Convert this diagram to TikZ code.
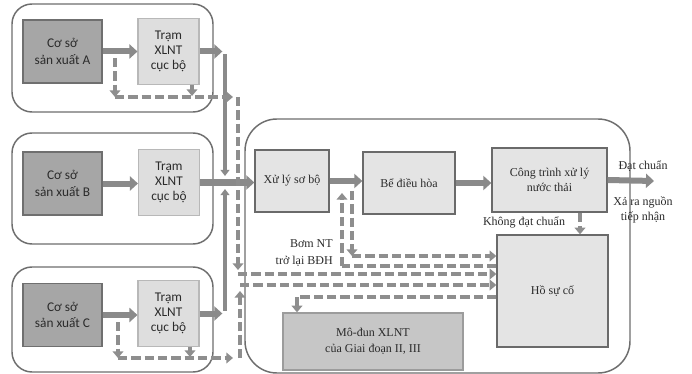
\documentclass[tikz,border=0pt]{standalone}
\usepackage{fontspec}
\setmainfont{Liberation Serif}
\newfontfamily\serfont{Liberation Serif}
\newfontfamily\calfont{Carlito}
\usetikzlibrary{arrows.meta}
\definecolor{cosofill}{HTML}{A6A6A6}
\definecolor{cosoline}{HTML}{6F6F6F}
\definecolor{tramfill}{HTML}{DEDEDE}
\definecolor{tramline}{HTML}{B8B8B8}
\definecolor{mainfill}{HTML}{E4E4E4}
\definecolor{mainline}{HTML}{6A6A6A}
\definecolor{modfill}{HTML}{C6C6C6}
\definecolor{modline}{HTML}{9C9C9C}
\definecolor{grpline}{HTML}{6E6E6E}
\definecolor{arrc}{HTML}{8A8A8A}
\definecolor{dashc}{HTML}{8E8E8E}
\definecolor{txt}{HTML}{2B2B2B}
\tikzset{
  grp/.style={draw=grpline, line width=1.1pt, rounded corners=15pt, minimum width=150.75pt, inner sep=0pt},
  bigarea/.style={draw=grpline, line width=1.1pt, rounded corners=24pt, inner sep=0pt},
  coso/.style={draw=cosoline, fill=cosofill, line width=0.9pt, inner sep=0pt, align=center, text=txt,
    font=\calfont\fontsize{10}{12.5}\selectfont, minimum width=59.25pt, minimum height=47.25pt},
  tram/.style={draw=tramline, fill=tramfill, line width=0.8pt, inner sep=0pt, align=center, text=txt,
    font=\calfont\fontsize{10}{11.5}\selectfont, minimum width=45.75pt, minimum height=49pt},
  mainbox/.style={draw=mainline, fill=mainfill, line width=1pt, inner sep=0pt, align=center, text=txt,
    font=\serfont\fontsize{9}{11.5}\selectfont},
  modbox/.style={draw=modline, fill=modfill, line width=1pt, inner sep=0pt, align=center, text=txt,
    font=\serfont\fontsize{9}{12}\selectfont},
  lbl/.style={inner sep=0pt, text=txt, font=\serfont\fontsize{9}{11.5}\selectfont, align=center},
  flow/.style={draw=arrc, line width=4.5pt, -{Triangle[length=6pt,width=10.5pt]}},
  feed/.style={draw=arrc, line width=3pt, -{Triangle[length=4.5pt,width=6.5pt]}},
  byp/.style={draw=dashc, line width=2.6pt, dash pattern=on 7pt off 3pt, -{Triangle[length=5pt,width=8pt]}},
  bypline/.style={draw=dashc, line width=2.6pt, dash pattern=on 7pt off 3pt},
}
\begin{document}
\begin{tikzpicture}[x=0.75pt,y=-0.75pt]
\fill[white] (0,0) rectangle (692,374);
\useasboundingbox (0,0) rectangle (692,374);

% groups
\node[grp, minimum height=81pt] (gA) at (112.5,58) {};
\node[grp, minimum height=83.25pt] (gB) at (112.5,188.5) {};
\node[grp, minimum height=78.75pt] (gC) at (112.5,319.5) {};
\node[bigarea, minimum width=288.75pt, minimum height=190.5pt] (area) at (437.5,246) {};

% left boxes
\node[coso] (csA) at (62.5,51.5) {Cơ sở\\sản xuất A};
\node[coso] (csB) at (62.5,183.5) {Cơ sở\\sản xuất B};
\node[coso] (csC) at (62.5,315) {Cơ sở\\sản xuất C};
\node[tram] (trA) at (168.5,51.5) {Trạm\\XLNT\\cục bộ};
\node[tram] (trB) at (169,182.5) {Trạm\\XLNT\\cục bộ};
\node[tram] (trC) at (168.5,313.5) {Trạm\\XLNT\\cục bộ};

% main boxes
\node[mainbox, minimum width=55.5pt, minimum height=46.5pt] (xl) at (292,181) {Xử lý sơ bộ};
\node[mainbox, minimum width=69pt, minimum height=46.5pt] (be) at (409,183) {Bể điều hòa};
\node[mainbox, minimum width=86.25pt, minimum height=48pt] (ct) at (549.5,180) {Công trình xử lý\\nước thải};
\node[mainbox, minimum width=83.25pt, minimum height=84pt] (ho) at (552.5,291) {Hồ sự cố};
\node[modbox, minimum width=135pt, minimum height=42.75pt] (md) at (373,341.5) {Mô-đun XLNT\\của Giai đoạn II, III};

% labels
\node[lbl] (dat) at (643,166) {Đạt chuẩn};
\node[lbl, font=\serfont\fontsize{9}{11.2}\selectfont] (xa) at (643,209.5) {Xả ra nguồn\\tiếp nhận};
\node[lbl] (kdat) at (524,222) {Không đạt chuẩn};
\node[lbl, align=right, anchor=east, font=\serfont\fontsize{9}{12.5}\selectfont] (bom) at (333,253) {Bơm NT\\trở lại BĐH};

% coordinates
\coordinate (jA) at (225,51.5);
\coordinate (jC) at (225,313.5);
\coordinate (jAe) at (225,176);
\coordinate (jCe) at (225,189);
\coordinate (out) at (654,181);
\coordinate (a1) at (115,58);
\coordinate (a2) at (115,97);
\coordinate (a3) at (233,97);
\coordinate (a4) at (192,96);
\coordinate (a5) at (238,97);
\coordinate (a6) at (238,270);
\coordinate (a7) at (238,274);
\coordinate (c1) at (118,322);
\coordinate (c2) at (118,358);
\coordinate (c3) at (233,358);
\coordinate (c4) at (190,357);
\coordinate (c5) at (240,358);
\coordinate (c6) at (240,291);
\coordinate (c7) at (240,285);
\coordinate (b1) at (352,191);
\coordinate (b2) at (352,256);
\coordinate (r1) at (342,266);
\coordinate (r2) at (342,193);
\coordinate (m1) at (297,297);

% solid flows
\draw[flow] (csA.east) -- (csA.east -| trA.west);
\draw[flow] (csB.east) -- (csB.east -| trB.west);
\draw[flow] (csC.east) -- (csC.east -| trC.west);
\draw[flow] (trA.east) -- ([xshift=-2]jA);
\draw[flow] (trC.east) -- ([xshift=-2]jC);
\draw[feed] ([yshift=-2]jA) -- (jAe);
\draw[feed] ([yshift=2]jC) -- (jCe);
\draw[flow] (trB.east) -- (trB.east -| xl.west);
\draw[flow] (xl.east) -- (xl.east -| be.west);
\draw[flow] (be.east) -- (be.east -| ct.west);
\draw[flow] (ct.east) -- (out);

% bypass A
\draw[byp] (a1) -- (a2);
\draw[byp] (a2) -- (a3);
\draw[byp] (trA.south -| a4) -- (a4);
\draw[byp] (a5) -- (a6);
\draw[byp] (a7) -- (a7 -| ho.west);
% bypass C
\draw[byp] (c1) -- (c2);
\draw[byp] (c2) -- (c3);
\draw[byp] (trC.south -| c4) -- (c4);
\draw[byp] (c5) -- (c6);
\draw[byp] (c7) -- (c7 -| ho.west);
% around BDH
\draw[byp] (b1) -- (b2);
\draw[byp] (b2) -- (b2 -| ho.west);
\draw[bypline] (r1 -| ho.west) -- (r1);
\draw[byp] (r1) -- (r2);
% to module
\draw[bypline] (m1 -| ho.west) -- (m1);
\draw[byp] (m1) -- (m1 |- md.north);
% not up to standard
\draw[byp] (ct.south -| 580,0) -- (ho.north -| 580,0);
\end{tikzpicture}
\end{document}
